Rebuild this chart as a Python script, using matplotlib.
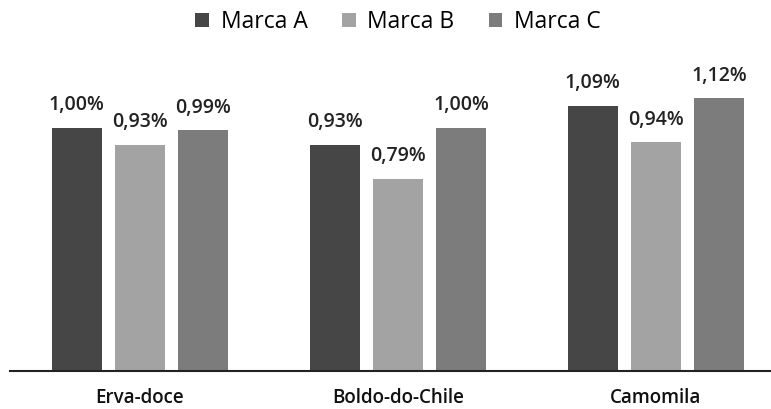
import matplotlib.pyplot as plt
import numpy as np

categorias = ['Erva-doce', 'Boldo-do-Chile', 'Camomila']
marcas = ['Marca A', 'Marca B', 'Marca C']
marca_a = [1.00, 0.93, 1.09]
marca_b = [0.93, 0.79, 0.94]
marca_c = [0.99, 1.00, 1.12]
cores = ['#464646', '#a3a3a3', '#7c7c7c']

plt.rcParams['font.family'] = ['Open Sans', 'DejaVu Sans']

fig = plt.figure(figsize=(7.71, 4.09), dpi=100)
ax = fig.add_axes([10/771, 38/409, 761/771, 292/409])

x = np.arange(len(categorias))
largura = 0.194
passo = 0.245

for i, (vals, nome) in enumerate(zip([marca_a, marca_b, marca_c], marcas)):
    barras = ax.bar(x + (i - 1) * passo, vals, largura, color=cores[i], label=nome)
    for b, v in zip(barras, vals):
        ax.annotate(f'{v:.2f}%'.replace('.', ','),
                    xy=(b.get_x() + b.get_width() / 2, v),
                    xytext=(0, 9), textcoords='offset points',
                    ha='center', va='bottom', fontsize=14, fontweight='semibold',
                    color='#222222')

ax.set_xlim(-0.504, 2.446)
ax.set_ylim(0, 1.2)
ax.set_xticks(x)
ax.set_xticklabels(categorias, fontsize=13.5, fontweight='semibold', color='#111111')
ax.tick_params(axis='x', length=0, pad=12)
ax.set_yticks([])
for lado in ['top', 'right', 'left']:
    ax.spines[lado].set_visible(False)
ax.spines['bottom'].set_linewidth(1.5)
ax.spines['bottom'].set_color('#222222')

fig.legend(loc='center', bbox_to_anchor=(398/771, 1 - 22/409), ncol=3, frameon=False,
           fontsize=16.5, handlelength=0.6, handleheight=0.6, handletextpad=0.5,
           columnspacing=1.5)

plt.savefig('out.png', dpi=100)
